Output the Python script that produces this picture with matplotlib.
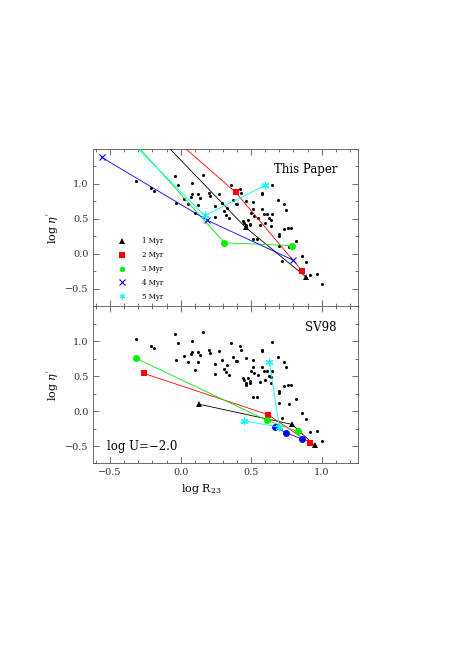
import matplotlib
matplotlib.use("Agg")
import matplotlib.pyplot as plt
from matplotlib.lines import Line2D
from matplotlib.ticker import MultipleLocator, FixedLocator

plt.rcParams['font.family'] = 'DejaVu Serif'
plt.rcParams['mathtext.fontset'] = 'dejavuserif'

# observed HII galaxies (shown in both panels)
obs_x = [-0.32, -0.21, -0.19, -0.04, -0.02, -0.03, 0.02, 0.05, 0.08, 0.07,
         0.08, 0.10, 0.12, 0.12, 0.14, 0.16, 0.20, 0.21, 0.24, 0.24,
         0.27, 0.29, 0.31, 0.32, 0.33, 0.34, 0.36, 0.37, 0.39, 0.40,
         0.42, 0.43, 0.44, 0.45, 0.46, 0.46, 0.46, 0.48, 0.49, 0.49,
         0.50, 0.51, 0.51, 0.52, 0.51, 0.54, 0.55, 0.56, 0.58, 0.58,
         0.58, 0.59, 0.60, 0.61, 0.63, 0.64, 0.65, 0.65, 0.70, 0.70,
         0.69, 0.73, 0.75, 0.76, 0.78, 0.77, 0.70, 0.82, 0.72, 0.86,
         0.89, 0.92, 0.97, 1.00, 0.64, 0.73]
obs_y = [1.04, 0.94, 0.90, 1.11, 0.98, 0.73, 0.79, 0.71, 1.01, 0.82,
         0.85, 0.59, 0.85, 0.70, 0.80, 1.13, 0.87, 0.83, 0.68, 0.53,
         0.86, 0.73, 0.61, 0.56, 0.66, 0.52, 0.98, 0.77, 0.72, 0.72,
         0.93, 0.87, 0.47, 0.44, 0.38, 0.41, 0.76, 0.48, 0.43, 0.41,
         0.58, 0.74, 0.64, 0.54, 0.21, 0.21, 0.52, 0.42, 0.87, 0.86,
         0.64, 0.57, 0.44, 0.57, 0.51, 0.49, 0.99, 0.57, 0.29, 0.26,
         0.77, 0.71, 0.63, 0.37, 0.37, 0.10, 0.11, 0.18, -0.10, -0.03,
         -0.11, -0.30, -0.28, -0.43, 0.40, 0.36]

ages = ["1 Myr", "2 Myr", "3 Myr", "4 Myr", "5 Myr"]
colors = ['black', 'red', '#00ee00', 'blue', 'cyan']

# model tracks, this paper
paper_x = [[-0.41, 0.46, 0.89],
           [-0.36, 0.39, 0.86],
           [-0.60, 0.31, 0.79],
           [-0.56, 0.19, 0.80],
           [-0.65, 0.17, 0.60]]
paper_y = [[2.2, 0.38, -0.33],
           [2.2, 0.88, -0.24],
           [2.2, 0.16, 0.12],
           [1.38, 0.48, -0.09],
           [2.2, 0.55, 0.98]]

# model tracks, SV98
sv_x = [[0.13, 0.79, 0.95],
        [-0.26, 0.62, 0.92],
        [-0.32, 0.61, 0.83],
        [0.67, 0.75, 0.86],
        [0.45, 0.70, 0.63]]
sv_y = [[0.10, -0.19, -0.49],
        [0.54, -0.05, -0.46],
        [0.76, -0.13, -0.29],
        [-0.23, -0.31, -0.40],
        [-0.14, -0.23, 0.70]]

yticks = [-0.5, 0.0, 0.5, 1.0]

star = (6, 2, 0)
paper_markers = ['^', 's', 'o', 'x', star]
sv_markers = ['^', 's', 'o', 'o', star]
sizes = [4.5, 4.5, 5, 5, 5.5]

fig = plt.figure(figsize=(4.52, 6.58), dpi=100)
ax1 = fig.add_axes([0.2064, 0.5342, 0.5863, 0.2394])
ax2 = fig.add_axes([0.2064, 0.2956, 0.5863, 0.2386], sharex=ax1)

for ax in (ax1, ax2):
    ax.plot(obs_x, obs_y, 'o', color='black', ms=2.2, mew=0, zorder=3)
    ax.set_xlim(-0.62, 1.26)
    ax.set_ylim(-0.75, 1.5)
    ax.xaxis.set_major_locator(MultipleLocator(0.5))
    ax.xaxis.set_minor_locator(MultipleLocator(0.1))
    ax.yaxis.set_major_locator(FixedLocator(yticks))
    ax.yaxis.set_minor_locator(MultipleLocator(0.25))
    ax.tick_params(which='both', direction='in', top=True, right=True,
                   width=0.5, labelsize=7, colors='#333333')
    ax.tick_params(which='major', length=4)
    ax.tick_params(which='minor', length=2)
    for s in ax.spines.values():
        s.set_linewidth(0.6)
        s.set_color('#555555')
    ax.set_ylabel(r"log $\eta^{'}$", fontsize=8)
    ax.yaxis.set_label_coords(-0.12, 0.5)

for i in range(5):
    mk = paper_markers[i]
    ax1.plot(paper_x[i], paper_y[i], '-', color=colors[i], lw=0.6,
             marker=mk, ms=sizes[i], mew=0.8 if mk in ('x', star) else 0,
             zorder=4)
    ax2.plot(sv_x[i], sv_y[i], '-', color=colors[i], lw=0.6,
             marker=sv_markers[i], ms=sizes[i],
             mew=0.8 if sv_markers[i] == star else 0, zorder=4)

handles = []
for i in range(5):
    mk = paper_markers[i]
    handles.append(Line2D([], [], ls='none', marker=mk, color=colors[i],
                          ms=3.8, mew=0.8 if mk in ('x', star) else 0))
ax1.legend(handles, ages, loc='upper left', bbox_to_anchor=(0.094, 0.44),
           frameon=False, fontsize=5, handlelength=1, handletextpad=2.4,
           labelspacing=0.85, borderpad=0, borderaxespad=0)

ax1.tick_params(labelbottom=False)
ax1.text(1.11, 1.2, "This Paper", ha='right', va='center', fontsize=8.5)
ax2.text(1.105, 1.2, "SV98", ha='right', va='center', fontsize=8.5)
ax2.text(-0.52, -0.5, u"log U=\u22122.0", ha='left', va='center', fontsize=8.5)
ax2.set_xlabel(r"log R$_{23}$", fontsize=8)
ax2.xaxis.set_label_coords(0.406, -0.12)

fig.savefig('out.png', dpi=100)
